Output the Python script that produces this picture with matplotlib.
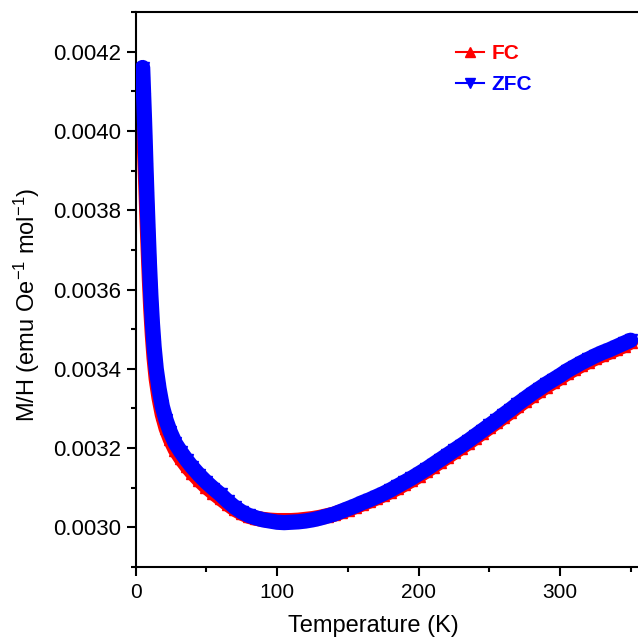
import matplotlib
matplotlib.use('Agg')
import matplotlib.pyplot as plt
from matplotlib.ticker import MultipleLocator

plt.rcParams['font.family'] = ['Liberation Sans', 'DejaVu Sans']
plt.rcParams['mathtext.fontset'] = 'custom'
plt.rcParams['mathtext.rm'] = 'Liberation Sans'
plt.rcParams['mathtext.it'] = 'Liberation Sans'

# ZFC curve
T_ZFC = [4.9, 5.3, 5.7, 6.2, 6.7, 7.3, 8.0, 8.8, 9.7, 10.7, 11.8, 13.0, 14.5,
         16.5, 18.8, 21.5, 24.5, 28, 32, 36, 40, 45, 50, 55, 60, 65, 70, 75,
         80, 85, 90, 95, 100, 105, 110, 115, 120, 125, 130, 135, 140, 145,
         150, 155, 160, 165, 170, 175, 180, 185, 190, 195, 200, 205, 210, 215,
         220, 225, 230, 235, 240, 245, 250, 255, 260, 265, 270, 275, 280, 285,
         290, 295, 300, 305, 310, 315, 320, 325, 330, 335, 340, 345, 350]
M_ZFC = [0.004160, 0.004120, 0.004080, 0.004030, 0.003975, 0.003905,
         0.003830, 0.003750, 0.003665, 0.003585, 0.003515, 0.003455,
         0.003400, 0.003350, 0.003305, 0.003270, 0.003240, 0.003212,
         0.003190, 0.003170, 0.003152, 0.003132, 0.003114, 0.003098,
         0.003083, 0.003066, 0.003051, 0.003039, 0.003030, 0.003024,
         0.003019, 0.003016, 0.003013, 0.003012, 0.003013, 0.003014,
         0.003016, 0.003019, 0.003023, 0.003028, 0.003033, 0.003040,
         0.003047, 0.003054, 0.003062, 0.003069, 0.003077, 0.003085,
         0.003094, 0.003104, 0.003114, 0.003124, 0.003135, 0.003146,
         0.003158, 0.003170, 0.003182, 0.003194, 0.003206, 0.003218,
         0.003231, 0.003244, 0.003257, 0.003270, 0.003284, 0.003297,
         0.003311, 0.003324, 0.003337, 0.003349, 0.003361, 0.003372,
         0.003383, 0.003395, 0.003405, 0.003415, 0.003424, 0.003433,
         0.003441, 0.003448, 0.003456, 0.003464, 0.003472]

# FC curve
T_FC = T_ZFC
M_FC = [0.004070, 0.004040, 0.004005, 0.003960, 0.003910, 0.003850,
        0.003780, 0.003705, 0.003625, 0.003550, 0.003485, 0.003428,
        0.003375, 0.003327, 0.003285, 0.003250, 0.003222, 0.003196,
        0.003174, 0.003155, 0.003138, 0.003119, 0.003102, 0.003087,
        0.003073, 0.003059, 0.003046, 0.003036, 0.003028, 0.003023,
        0.003020, 0.003018, 0.003017, 0.003017, 0.003017, 0.003018,
        0.003020, 0.003022, 0.003025, 0.003029, 0.003033, 0.003039,
        0.003045, 0.003052, 0.003059, 0.003066, 0.003074, 0.003082,
        0.003090, 0.003099, 0.003109, 0.003119, 0.003130, 0.003141,
        0.003153, 0.003165, 0.003177, 0.003189, 0.003201, 0.003213,
        0.003226, 0.003239, 0.003252, 0.003265, 0.003278, 0.003291,
        0.003305, 0.003318, 0.003331, 0.003343, 0.003355, 0.003366,
        0.003377, 0.003389, 0.003399, 0.003409, 0.003418, 0.003427,
        0.003435, 0.003442, 0.003450, 0.003458, 0.003468]

fig = plt.figure(figsize=(6.38, 6.37), dpi=100)
ax = fig.add_axes([135.7 / 638, 1 - 567 / 637, 523.2 / 638, 555 / 637])

ax.plot(T_FC, M_FC, '-', color='red', lw=11, solid_capstyle='round', zorder=2)
ax.plot(T_FC, M_FC, '^', color='red', ms=9, zorder=2)
ax.plot(T_ZFC, M_ZFC, '-', color='blue', lw=11, solid_capstyle='round', zorder=3)
ax.plot(T_ZFC, M_ZFC, 'v', color='blue', ms=9, zorder=3)

# legend handles
h1, = ax.plot([], [], '-^', color='red', lw=1.5, ms=7, label='FC')
h2, = ax.plot([], [], '-v', color='blue', lw=1.5, ms=7, label='ZFC')
leg = ax.legend(handles=[h1, h2], loc='upper left', frameon=False,
                bbox_to_anchor=(456 / 638, 1 - 44 / 637),
                bbox_transform=fig.transFigure, borderpad=0, borderaxespad=0,
                handlelength=1.35, handletextpad=0.35, labelspacing=0.6,
                prop={'weight': 'bold', 'size': 15})
for txt, c in zip(leg.get_texts(), ['red', 'blue']):
    txt.set_color(c)

ax.set_xlim(0, 370)
ax.set_ylim(0.0029, 0.0043)
ax.xaxis.set_major_locator(MultipleLocator(100))
ax.xaxis.set_minor_locator(MultipleLocator(50))
ax.yaxis.set_major_locator(MultipleLocator(0.0002))
ax.yaxis.set_minor_locator(MultipleLocator(0.0001))
ax.yaxis.set_major_formatter(plt.FormatStrFormatter('%.4f'))

ax.tick_params(which='major', direction='out', length=6.5, width=1.5, pad=4)
ax.tick_params(which='minor', direction='out', length=3.5, width=1.5)
ax.tick_params(axis='x', labelsize=15, pad=5)
ax.tick_params(axis='y', labelsize=16)
ax.tick_params(top=False, right=False)
for s in ax.spines.values():
    s.set_linewidth(1.5)

ax.set_xlabel('Temperature (K)', fontsize=17)
ax.xaxis.set_label_coords((373 - 135.7) / 523.2, -0.086)
ax.set_ylabel('M/H (emu Oe$^{-1}$ mol$^{-1}$)', fontsize=17)
ax.yaxis.set_label_coords((42 - 135.7) / 523.2, (567 - 305) / 555)

fig.savefig('out.png', dpi=100)
